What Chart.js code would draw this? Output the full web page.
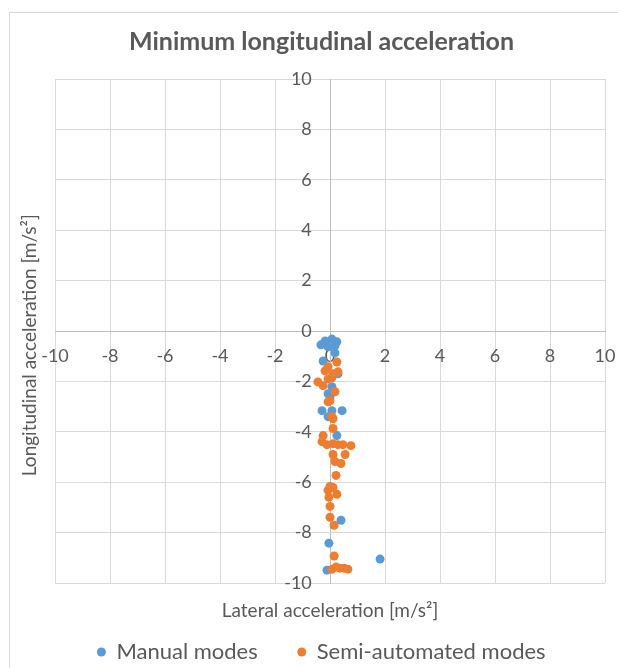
<!DOCTYPE html>
<html>
<head>
<meta charset="utf-8">
<title>Minimum longitudinal acceleration</title>
<script src="https://cdn.jsdelivr.net/npm/chart.js@4.4.1/dist/chart.umd.min.js"></script>
<style>
  html, body { margin: 0; padding: 0; background: #fff; }
  canvas { display: block; }
</style>
</head>
<body>
<canvas id="accelChart" width="618" height="668"></canvas>
<script>
// values, in m/s²
const seriesNames = ['Manual modes', 'Semi-automated modes']
const axisTicks = [-10, -8, -6, -4, -2, 0, 2, 4, 6, 8, 10]

const manualLat = [-0.18, 0.07, 0.25, -0.07, 0.18, -0.33, 0.18, -0.25, 0.29, 0.07, -0.07,
  0.0, -0.29, 0.07, 0.44, -0.07, 0.25, 0.4, -0.04, 1.82, -0.11]
const manualLon = [-0.40, -0.32, -0.43, -0.63, -0.59, -0.55, -0.87, -1.19, -1.70, -2.21, -2.49,
  -2.61, -3.16, -3.16, -3.16, -3.40, -4.15, -7.51, -8.42, -9.05, -9.49]

const semiLat = [0.25, -0.07, -0.18, 0.11, 0.29, -0.07, 0.07, -0.44, -0.25, 0.18, 0.0,
  -0.07, 0.07, 0.11, 0.11, -0.25, -0.29, -0.11, 0.11, 0.29, 0.47, 0.76, 0.11, 0.55, 0.18,
  0.40, 0.22, 0.0, 0.11, -0.07, 0.25, -0.04, 0.0, 0.0, 0.15, 0.15, 0.07, 0.22, 0.36, 0.51, 0.65]
const semiLon = [-1.23, -1.42, -1.58, -1.70, -1.62, -1.90, -1.86, -2.02, -2.17, -2.41, -2.77,
  -2.81, -3.40, -3.48, -3.87, -4.15, -4.39, -4.51, -4.47, -4.51, -4.51, -4.55, -4.90, -4.90, -5.18,
  -5.26, -5.73, -6.17, -6.21, -6.32, -6.48, -6.60, -6.96, -7.39, -7.71, -8.93, -9.45, -9.37, -9.41, -9.41, -9.45]

const textGray = '#595959'
const gridGray = '#d9d9d9'
const axisGray = '#bfbfbf'
const family = 'Lato, "Liberation Sans", sans-serif'

const toPoints = (xs, ys) => xs.map((x, i) => ({ x: x, y: ys[i] }))
const useTicks = scale => { scale.ticks = axisTicks.map(v => ({ value: v })) }

// white page + the thin frame of the chart area
const chartFrame = {
  id: 'chartFrame',
  beforeDraw(chart) {
    const ctx = chart.ctx
    ctx.save()
    ctx.fillStyle = '#ffffff'
    ctx.fillRect(0, 0, chart.width, chart.height)
    ctx.strokeStyle = gridGray
    ctx.lineWidth = 1
    ctx.strokeRect(9.5, 12.5, chart.width + 20, chart.height + 20)
    ctx.restore()
  }
}

const hiddenAxis = {
  type: 'linear',
  grid: { display: false, drawTicks: false },
  border: { display: false },
  ticks: { display: false }
}

const config = {
  type: 'scatter',
  data: {
    datasets: [
      {
        label: seriesNames[0],
        data: toPoints(manualLat, manualLon),
        backgroundColor: '#5b9bd5',
        borderWidth: 0,
        pointRadius: 4.5,
        order: 1,
      },
      {
        label: seriesNames[1],
        data: toPoints(semiLat, semiLon),
        backgroundColor: '#ed7d31',
        borderWidth: 0,
        pointRadius: 4.5,
        order: 0,
      }
    ]
  },
  options: {
    responsive: false,
    animation: false,
    events: [],
    layout: { padding: { left: 10, right: -15, top: 0, bottom: -5 } },
    scales: {
      x: {
        type: 'linear',
        min: -10,
        max: 10,
        position: { y: 0 },
        afterBuildTicks: useTicks,
        // the end labels may hang over the plot edge, like in the original
        afterFit: scale => { scale.paddingLeft = 0; scale.paddingRight = 0 },
        grid: { color: gridGray, drawTicks: false },
        border: { color: axisGray },
        ticks: { color: textGray, font: { family, size: 18 }, padding: 14, autoSkip: false, maxRotation: 0 },
      },
      y: {
        type: 'linear',
        min: -10,
        max: 10,
        position: { x: 0 },
        afterBuildTicks: useTicks,
        grid: { color: gridGray, drawTicks: false },
        border: { color: axisGray },
        ticks: { color: textGray, font: { family, size: 18 }, autoSkip: false, callback: v => v + '\u2002  ' },
      },
      xTitle: {
        ...hiddenAxis,
        axis: 'x',
        position: 'bottom',
        title: {
          display: true,
          text: 'Lateral acceleration [m/s²]',
          color: textGray,
          font: { family, size: 19 },
          padding: { top: 16.6, bottom: -21.4 },
        },
      },
      yTitle: {
        ...hiddenAxis,
        axis: 'y',
        position: 'left',
        title: {
          display: true,
          text: 'Longitudinal acceleration [m/s²]\u2002\u2002\u2002',
          color: textGray,
          font: { family, size: 19 },
          padding: { top: 8.6, bottom: 13.6 },
        },
      },
      yRight: {
        ...hiddenAxis,
        axis: 'y',
        position: 'right',
        grid: { display: false, drawTicks: true, tickLength: 28 },
      },
    },
    plugins: {
      title: {
        display: true,
        text: 'Minimum longitudinal acceleration',
        color: textGray,
        font: { family, size: 25, weight: 'bold' },
        padding: { top: 27, bottom: 22 },
      },
      legend: {
        position: 'bottom',
        labels: {
          usePointStyle: true,
          pointStyle: 'circle',
          boxWidth: 8,
          boxHeight: 6.4,
          padding: 40,
          color: textGray,
          font: { family, size: 22 },
          sort: (a, b) => a.datasetIndex - b.datasetIndex,
        },
      },
      tooltip: { enabled: false },
    },
  },
  plugins: [chartFrame],
}

const accelChart = new Chart(document.getElementById('accelChart').getContext('2d'), config)
</script>
</body>
</html>
